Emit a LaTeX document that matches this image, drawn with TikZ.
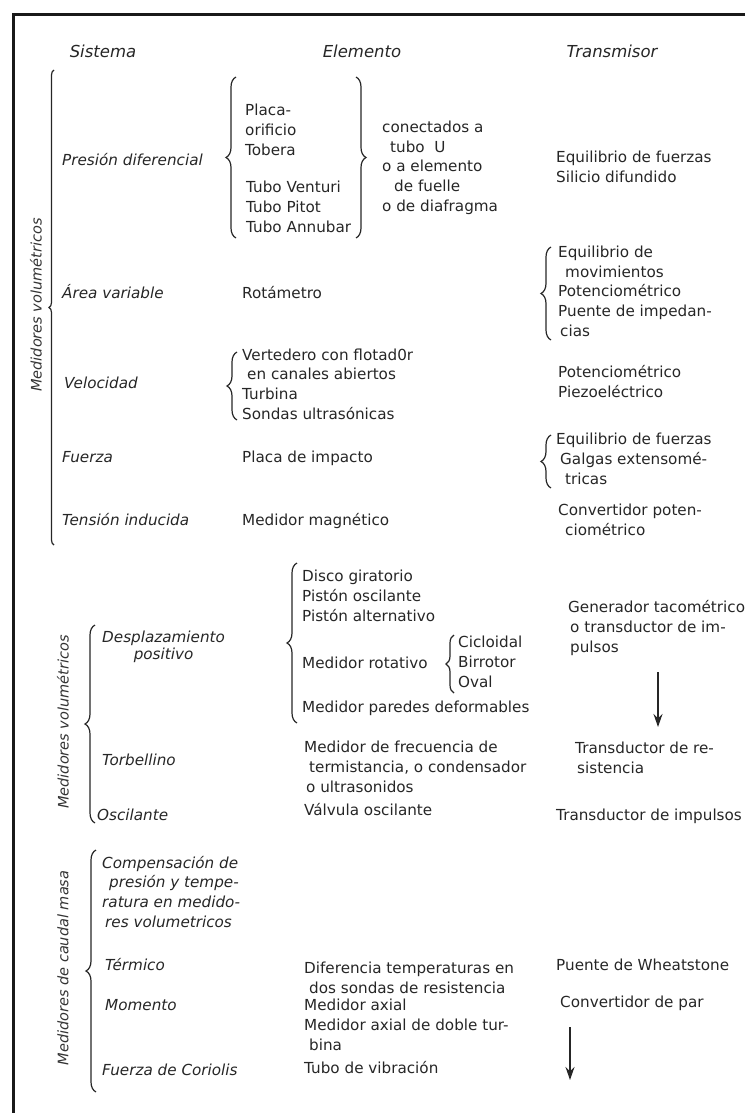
\documentclass[tikz,border=0pt]{standalone}
\usepackage{fontspec}
\setmainfont{DejaVu Sans}
\usetikzlibrary{arrows.meta}
\usetikzlibrary{decorations.pathreplacing}

\begin{document}
\begin{tikzpicture}[x=1pt, y=-1pt,
    txt/.style={anchor=base west, inner sep=0pt, align=left, text=black!85,
        font=\fontsize{15.2}{19.6}\selectfont},
    sys/.style={txt, font=\fontsize{15.2}{19.6}\selectfont\itshape},
    head/.style={anchor=base, inner sep=0pt, text=black!85,
        font=\fontsize{16.5}{20}\selectfont\itshape},
    grp/.style={rotate=90, inner sep=0pt, text=black!80,
        font=\fontsize{14.5}{18}\selectfont\itshape},
    curly/.style={decorate, decoration={brace, amplitude=#1}, line width=1.2pt, black!85},
    curly/.default=10pt,
    arr/.style={-{Stealth[length=13pt, width=9pt]}, line width=1.5pt, black!85}]

\useasboundingbox (0,0) rectangle (745,1113);

% Frame
\draw[line width=3pt, black!90] (745,15) -- (13,15) -- (13,1113);

% Headers
\node[head] (hsis) at (103,58) {Sistema};
\node[head] (hele) at (362,58) {Elemento};
\node[head] (htra) at (612,58) {Transmisor};

% Group labels
\node[grp] (g1) at (36,305) {Medidores volumétricos};
\node[grp] (g2) at (63,722) {Medidores volumétricos};
\node[grp] (g3) at (63,968) {Medidores de caudal masa};

% Group braces
\coordinate (b1t) at (54,70);
\coordinate (b1b) at (54,545);
\draw[curly=5pt] (b1b) -- (b1t);
\coordinate (b2t) at (95,625);
\coordinate (b2b) at (95,823);
\draw[curly] (b2b) -- (b2t);
\coordinate (b3t) at (96,850);
\coordinate (b3b) at (96,1092);
\draw[curly] (b3b) -- (b3t);

% Presion diferencial (multi-line nodes sit on their last line)
\node[sys] (pdif) at (62,165) {Presión diferencial};
\node[txt] (pla) at (245,155) {Placa-\\orificio\\Tobera};
\node[txt] (tub) at (246,232) {Tubo Venturi\\Tubo Pitot\\Tubo Annubar};
\node[txt] (con) at (382,211) {conectados a\\\hspace*{8pt}tubo\ \ U\\o a elemento\\\hspace*{12pt}de fuelle\\o de diafragma};
\node[txt] (eqf) at (556,182) {Equilibrio de fuerzas\\Silicio difundido};
\coordinate (pot1) at (236,77);
\coordinate (pob1) at (236,238);
\draw[curly] (pob1) -- (pot1);
\coordinate (pot2) at (356,77);
\coordinate (pob2) at (356,238);
\draw[curly] (pot2) -- (pob2);

% Area variable
\node[sys] (avar) at (62,298) {Área variable};
\node[txt] (rot) at (242,298) {Rotámetro};
\node[txt] (eqm) at (558,336) {Equilibrio de\\\hspace*{7pt}movimientos\\Potenciométrico\\Puente de impedan-\\\hspace*{2pt}cias};
\coordinate (avt) at (551,247);
\coordinate (avb) at (551,340);
\draw[curly] (avb) -- (avt);

% Velocidad
\node[sys] (vel) at (64,388) {Velocidad};
\node[txt] (ver) at (242,419) {Vertedero con flotad0r\\\hspace*{5pt}en canales abiertos\\Turbina\\Sondas ultrasónicas};
\node[txt] (pot) at (558,397) {Potenciométrico\\Piezoeléctrico};
\coordinate (vet) at (237,352);
\coordinate (veb) at (237,420);
\draw[curly] (veb) -- (vet);

% Fuerza
\node[sys] (fue) at (62,462) {Fuerza};
\node[txt] (pim) at (242,462) {Placa de impacto};
\node[txt] (eqg) at (556,484) {Equilibrio de fuerzas\\\hspace*{4pt}Galgas extensomé-\\\hspace*{9pt}tricas};
\coordinate (fut) at (551,435);
\coordinate (fub) at (551,488);
\draw[curly] (fub) -- (fut);

% Tension inducida
\node[sys] (tind) at (62,525) {Tensión inducida};
\node[txt] (mmag) at (242,525) {Medidor magnético};
\node[txt] (cpot) at (558,535) {Convertidor poten-\\\hspace*{7pt}ciométrico};

% Desplazamiento positivo
\node[sys, align=center] (dpos) at (102,659) {Desplazamiento\\[-3pt]positivo};
\node[txt] (dis) at (302,621) {Disco giratorio\\Pistón oscilante\\Pistón alternativo};
\node[txt] (mrot) at (302,668) {Medidor rotativo};
\node[txt] (mpar) at (302,712) {Medidor paredes deformables};
\node[txt] (cic) at (458,687) {Cicloidal\\Birrotor\\Oval};
\node[txt] (gen) at (568,652) {Generador tacométrico\\\hspace*{2pt}o transductor de im-\\\hspace*{2pt}pulsos};
\coordinate (dpt) at (297,563);
\coordinate (dpb) at (297,723);
\draw[curly] (dpb) -- (dpt);
\coordinate (mrt) at (454,635);
\coordinate (mrb) at (454,693);
\draw[curly=8pt] (mrb) -- (mrt);
\coordinate (a1s) at (658,672);
\coordinate (a1e) at (658,727);
\draw[arr] (a1s) -- (a1e);

% Torbellino
\node[sys] (tor) at (102,765) {Torbellino};
\node[txt] (mfr) at (304,792) {Medidor de frecuencia de\\\hspace*{5pt}termistancia, o condensador\\\hspace*{2pt}o ultrasonidos};
\node[txt] (tre) at (575,773) {Transductor de re-\\\hspace*{2pt}sistencia};

% Oscilante
\node[sys] (osc) at (97,820) {Oscilante};
\node[txt] (vos) at (304,815) {Válvula oscilante};
\node[txt] (timp) at (556,820) {Transductor de impulsos};

% Caudal masa
\node[sys] (comp) at (102,927) {Compensación de\\\hspace*{7pt}presión y tempe-\\ratura en medido-\\\hspace*{3pt}res volumetricos};
\node[sys] (ter) at (105,970) {Térmico};
\node[txt] (dif) at (304,993) {Diferencia temperaturas en\\\hspace*{5pt}dos sondas de resistencia};
\node[txt] (pwh) at (556,970) {Puente de Wheatstone};
\node[sys] (mom) at (105,1010) {Momento};
\node[txt] (max) at (304,1010) {Medidor axial};
\node[txt] (mad) at (304,1050) {Medidor axial de doble tur-\\\hspace*{5pt}bina};
\node[txt] (cpar) at (560,1007) {Convertidor de par};
\node[sys] (cor) at (102,1075) {Fuerza de Coriolis};
\node[txt] (tvib) at (304,1073) {Tubo de vibración};
\coordinate (a2s) at (570,1027);
\coordinate (a2e) at (570,1080);
\draw[arr] (a2s) -- (a2e);

\end{tikzpicture}
\end{document}
